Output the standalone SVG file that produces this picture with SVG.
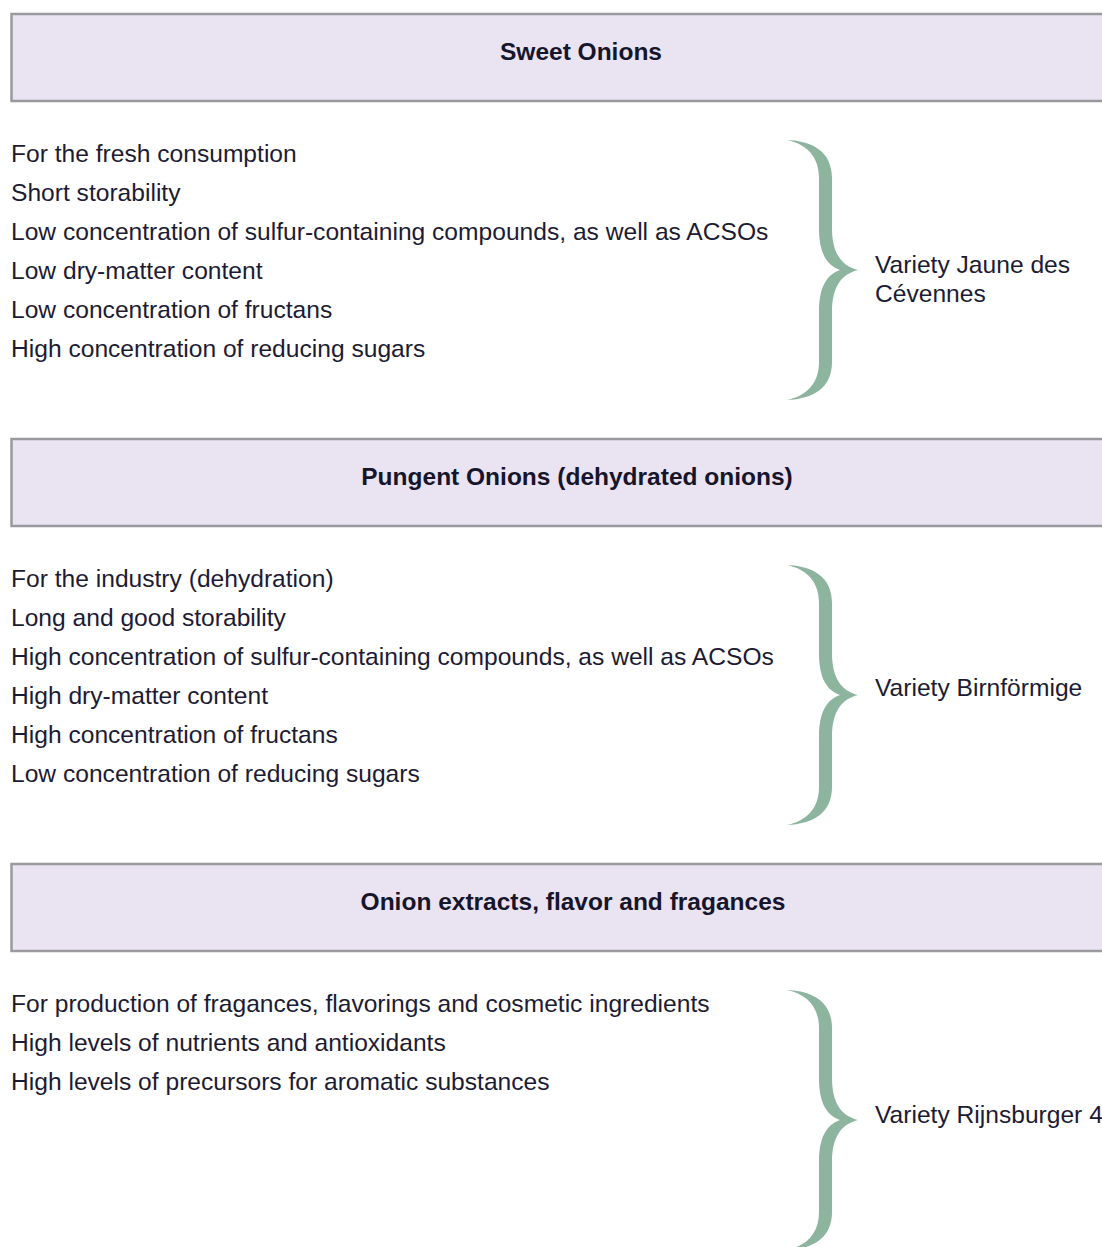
<svg xmlns="http://www.w3.org/2000/svg" width="1102" height="1247" viewBox="0 0 1102 1247">
  <style>
    .hdr { fill: #e9e3f2; stroke: #9a9a9e; stroke-width: 2.5; }
    .title { font-family: "Liberation Sans", Arial, sans-serif; font-size: 24.5px; font-weight: bold; fill: #16152b; text-anchor: middle; }
    .item { font-family: "Liberation Sans", Arial, sans-serif; font-size: 24.6px; fill: #1c1b33; }
    .brace { fill: #8cb49e; }
  </style>
  <defs>
    <!-- curly brace, tip at the origin pointing right -->
    <path id="brace" d="M -71 -130 C -45 -129 -26 -118 -26 -92 L -26 -42 C -26 -16 -16 -4 0 0 C -16 4 -26 16 -26 42 L -26 92 C -26 118 -45 129 -71 130 C -52 126 -39 114 -39 92 L -39 42 C -39 18 -32 5 -18 0 C -32 -5 -39 -18 -39 -42 L -39 -92 C -39 -114 -52 -126 -71 -130 Z"/>
  </defs>
  <rect width="1102" height="1247" fill="#ffffff"/>

  <!-- Sweet onions -->
  <g id="sweet-header">
    <rect class="hdr" x="11.5" y="14" width="1140" height="87"/>
    <text class="title" x="581" y="60">Sweet Onions</text>
  </g>
  <g id="sweet-traits">
    <text class="item" x="11" y="162">For the fresh consumption</text>
    <text class="item" x="11" y="201">Short storability</text>
    <text class="item" x="11" y="240">Low concentration of sulfur-containing compounds, as well as ACSOs</text>
    <text class="item" x="11" y="279">Low dry-matter content</text>
    <text class="item" x="11" y="318">Low concentration of fructans</text>
    <text class="item" x="11" y="357">High concentration of reducing sugars</text>
  </g>
  <g id="sweet-variety">
    <text class="item" x="875" y="273">Variety Jaune des</text>
    <text class="item" x="875" y="302">Cévennes</text>
  </g>

  <!-- Pungent onions -->
  <g id="pungent-header">
    <rect class="hdr" x="11.5" y="439" width="1140" height="87"/>
    <text class="title" x="577" y="485">Pungent Onions (dehydrated onions)</text>
  </g>
  <g id="pungent-traits">
    <text class="item" x="11" y="587">For the industry (dehydration)</text>
    <text class="item" x="11" y="626">Long and good storability</text>
    <text class="item" x="11" y="665">High concentration of sulfur-containing compounds, as well as ACSOs</text>
    <text class="item" x="11" y="704">High dry-matter content</text>
    <text class="item" x="11" y="743">High concentration of fructans</text>
    <text class="item" x="11" y="782">Low concentration of reducing sugars</text>
  </g>
  <g id="pungent-variety">
    <text class="item" x="875" y="696">Variety Birnförmige</text>
  </g>

  <!-- Extracts, flavours and fragrances -->
  <g id="extracts-header">
    <rect class="hdr" x="11.5" y="864" width="1140" height="87"/>
    <text class="title" x="573" y="910">Onion extracts, flavor and fragances</text>
  </g>
  <g id="extracts-traits">
    <text class="item" x="11" y="1012">For production of fragances, flavorings and cosmetic ingredients</text>
    <text class="item" x="11" y="1051">High levels of nutrients and antioxidants</text>
    <text class="item" x="11" y="1090">High levels of precursors for aromatic substances</text>
  </g>
  <g id="extracts-variety">
    <text class="item" x="875" y="1123">Variety Rijnsburger 4</text>
  </g>

  <!-- braces grouping each trait list with its variety -->
  <g id="connectors">
    <use href="#brace" class="brace" transform="translate(858 270)"/>
    <use href="#brace" class="brace" transform="translate(858 695)"/>
    <use href="#brace" class="brace" transform="translate(858 1120)"/>
  </g>
</svg>
